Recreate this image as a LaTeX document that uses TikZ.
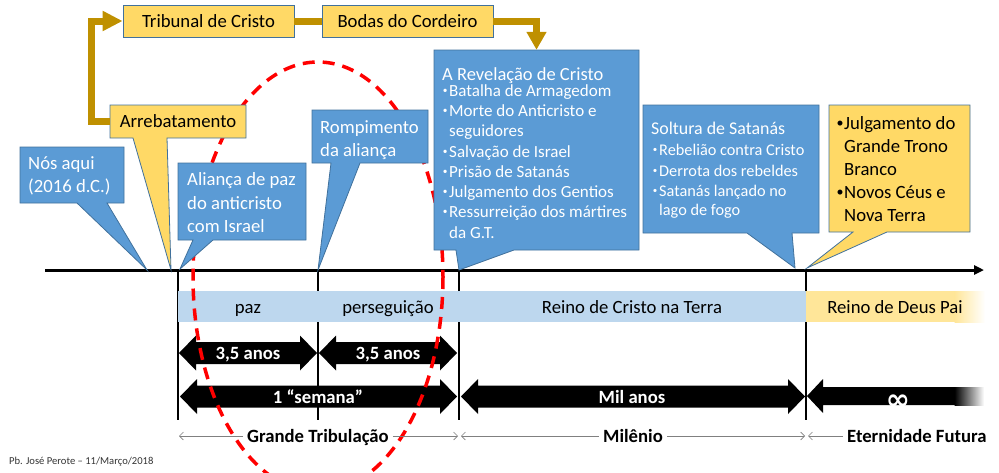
\documentclass[tikz,border=0pt]{standalone}
\usepackage{fontspec}
\usepackage{graphicx}
\setmainfont{Carlito}
\newfontfamily\dejavu{DejaVu Sans}
\usetikzlibrary{arrows.meta}
\definecolor{cblue}{HTML}{5B9BD5}
\definecolor{cedge}{HTML}{41719C}
\definecolor{cyel}{HTML}{FFD966}
\definecolor{cgold}{HTML}{BF9000}
\definecolor{bandb}{HTML}{BDD7EE}
\definecolor{bandy}{HTML}{FFE699}
\definecolor{dimg}{HTML}{808080}
\newcommand\FBig{\fontsize{18.7}{22}\selectfont}
\newcommand\FRevT{\fontsize{18.5}{22}\selectfont}
\newcommand\FRev{\fontsize{17}{20}\selectfont}
\newcommand\FSolT{\fontsize{17.9}{21}\selectfont}
\newcommand\FSol{\fontsize{16.3}{20}\selectfont}
\newcommand\FFoot{\fontsize{10.6}{12}\selectfont}
\newcommand\Bul[2]{\makebox[#1][c]{\raisebox{#2}{\scalebox{0.55}{•}}}}
\newcommand\BulJ[1]{\makebox[#1][c]{\raisebox{0.08em}{\scalebox{0.75}{•}}}}
\newcommand\DblArr[3]{%
  \fill (#1,#3) -- ({#1+17},{#3-17.5}) -- ({#1+17},{#3-11}) -- ({#2-17},{#3-11}) -- ({#2-17},{#3-17.5}) -- (#2,#3) -- ({#2-17},{#3+17.5}) -- ({#2-17},{#3+11}) -- ({#1+17},{#3+11}) -- ({#1+17},{#3+17.5}) -- cycle;}
\tikzset{
  bluecall/.style={fill=cblue, draw=cedge, line width=0.8pt},
  yelcall/.style={fill=cyel, draw=cedge, line width=0.8pt},
  topbox/.style={fill=cyel, draw=cedge, line width=0.8pt, minimum width=171pt, minimum height=32pt, inner sep=0pt, font=\FBig},
  wline/.style={text=white, inner sep=0pt, anchor=base west},
  kline/.style={text=black, inner sep=0pt, anchor=base west},
  bandtxt/.style={inner sep=0pt, anchor=base, font=\FBig},
  arrtxt/.style={inner sep=0pt, anchor=base, font=\FBig\bfseries, text=white},
  dimtxt/.style={inner xsep=4pt, inner ysep=0pt, anchor=base, font=\FBig\bfseries},
  dimline/.style={draw=dimg, line width=0.6pt, -{Straight Barb[length=4pt,width=8pt]}},
  goldline/.style={draw=cgold, line width=7pt, line join=miter},
  tickline/.style={line width=2pt},
}
\begin{document}
\begin{tikzpicture}[x=1pt,y=-1pt]
\useasboundingbox (0,0) rectangle (999,472);
\clip (0,0) rectangle (999,472);
% ticks
\draw[tickline] (178,270) -- (178,420);
\draw[tickline] (318,270) -- (318,420);
\draw[tickline] (459,270) -- (459,420);
\draw[tickline] (806,270) -- (806,420);
% bands
\fill[bandb] (178,291) rectangle (806,322);
\fill[bandy] (806,291) rectangle (955,322);
\shade[left color=bandy, right color=white] (954.5,291) rectangle (985,322);
% timeline
\coordinate (tl0) at (45,270);
\coordinate (tl1) at (984,270);
\draw[line width=3pt, -{Triangle[length=10pt,width=9pt]}] (tl0) -- (tl1);
% duration arrows
\DblArr{179}{317}{353}
\DblArr{319}{457}{353}
\DblArr{180}{457}{396.5}
\DblArr{461}{805}{396.5}
\fill (807,396) -- (823,379) -- (823,387) -- (955,387) -- (955,405) -- (823,405) -- (823,413) -- cycle;
\shade[left color=black, right color=white] (954.5,387) rectangle (984,405);
% band texts
\node[bandtxt] (tpaz) at (248,313) {paz};
\node[bandtxt] (tper) at (388,313) {perseguição};
\node[bandtxt] (trc) at (632,313) {Reino de Cristo na Terra};
\node[bandtxt] (trd) at (895,313) {Reino de Deus Pai};
% arrow texts
\node[arrtxt] (a1) at (248,359) {3,5 anos};
\node[arrtxt] (a2) at (388,359) {3,5 anos};
\node[arrtxt] (a3) at (318,403) {1 “semana”};
\node[arrtxt] (a4) at (632,403) {Mil anos};
\node[inner sep=0pt, font=\dejavu\bfseries\fontsize{29}{30}\selectfont, text=white] (a5) at (898,402) {∞};
% red ellipse
\draw[red, line width=3.5pt, dash pattern=on 12pt off 8pt] (318,277) ellipse [x radius=125, y radius=215];
% callouts
\draw[bluecall] (20,147) -- (124,147) -- (124,203) -- (107,203) -- (147,270) -- (77,203) -- (20,203) -- cycle;
\draw[yelcall] (110,105) -- (246,105) -- (246,138) -- (167,138) -- (171,270) -- (133,138) -- (110,138) -- cycle;
\draw[bluecall] (178,163) -- (306,163) -- (306,240) -- (213,240) -- (180,269) -- (193,240) -- (178,240) -- cycle;
\draw[bluecall] (312,110) -- (428,110) -- (428,163) -- (360,163) -- (318,270) -- (331,163) -- (312,163) -- cycle;
\draw[bluecall] (434,50) -- (639,50) -- (639,250) -- (514,250) -- (459,270) -- (456,250) -- (434,250) -- cycle;
\draw[bluecall] (643,105) -- (819,105) -- (819,233) -- (792,233) -- (795,268) -- (747,233) -- (643,233) -- cycle;
\draw[yelcall] (829,105) -- (970,105) -- (970,232) -- (887,232) -- (807,268) -- (853,232) -- (829,232) -- cycle;
% callout texts
\node[wline, font=\FBig] (n1) at (28,169) {Nós aqui};
\node[wline, font=\FBig] (n2) at (28,192.5) {(2016 d.C.)};
\node[inner sep=0pt, minimum width=136pt, minimum height=33pt, font=\FBig] (arreb) at (178,121.5) {Arrebatamento};
\node[wline, font=\FBig] (al1) at (187,185.5) {Aliança de paz};
\node[wline, font=\FBig] (al2) at (187,209) {do anticristo};
\node[wline, font=\FBig] (al3) at (187,232.5) {com Israel};
\node[wline, font=\FBig] (ro1) at (320,133.5) {Rompimento};
\node[wline, font=\FBig] (ro2) at (320,156) {da aliança};
\node[inner sep=0pt, minimum width=205pt, minimum height=200pt] (rev) at (536.5,150) {};
\node[wline, font=\FRevT] (rv0) at (442,80.5) {A Revelação de Cristo};
\node[wline, font=\FRev] (rv1) at (441,96) {\Bul{8pt}{0.15em}Batalha de Armagedom};
\node[wline, font=\FRev] (rv2) at (441,116) {\Bul{8pt}{0.15em}Morte do Anticristo e};
\node[wline, font=\FRev] (rv3) at (449,136) {seguidores};
\node[wline, font=\FRev] (rv4) at (441,157) {\Bul{8pt}{0.15em}Salvação de Israel};
\node[wline, font=\FRev] (rv5) at (441,177) {\Bul{8pt}{0.15em}Prisão de Satanás};
\node[wline, font=\FRev] (rv6) at (441,197) {\Bul{8pt}{0.15em}Julgamento dos Gentios};
\node[wline, font=\FRev] (rv7) at (441,217) {\Bul{8pt}{0.15em}Ressurreição dos mártires};
\node[wline, font=\FRev] (rv8) at (449,238) {da G.T.};
\node[wline, font=\FSolT] (so0) at (651,134) {Soltura de Satanás};
\node[wline, font=\FSol] (so1) at (651,155) {\Bul{8pt}{0.15em}Rebelião contra Cristo};
\node[wline, font=\FSol] (so2) at (651,176) {\Bul{8pt}{0.15em}Derrota dos rebeldes};
\node[wline, font=\FSol] (so3) at (651,196) {\Bul{8pt}{0.15em}Satanás lançado no};
\node[wline, font=\FSol] (so4) at (659,215) {lago de fogo};
\node[kline, font=\FBig] (ju1) at (836,129) {\BulJ{8pt}Julgamento do};
\node[kline, font=\FBig] (ju2) at (844,152) {Grande Trono};
\node[kline, font=\FBig] (ju3) at (844,175) {Branco};
\node[kline, font=\FBig] (ju4) at (836,198) {\BulJ{8pt}Novos Céus e};
\node[kline, font=\FBig] (ju5) at (844,221) {Nova Terra};
% top boxes and gold connectors
\node[topbox] (trib) at (208.5,21) {Tribunal de Cristo};
\node[topbox] (bodas) at (407.5,21) {Bodas do Cordeiro};
\draw[goldline, -{Triangle[length=20pt,width=19pt]}] (arreb.west) -- ++(-18,0) |- (trib.west);
\draw[goldline] (trib.east) -- (bodas.east -| bodas.west);
\draw[goldline, -{Triangle[length=18pt,width=19pt]}] (bodas.east) -| (rev.north);
% bottom labels
\coordinate (g0) at (179,436);
\coordinate (g1) at (458,436);
\coordinate (g2) at (461,436);
\coordinate (g3) at (805,436);
\coordinate (g4) at (808,436);
\node[dimtxt] (gt) at (318,442) {Grande Tribulação};
\node[dimtxt] (mil) at (633,442) {Milênio};
\node[dimtxt, anchor=base west] (et) at (843,442) {Eternidade Futura};
\draw[dimline] (g0 -| gt.west) -- (g0);
\draw[dimline] (g0 -| gt.east) -- (g1);
\draw[dimline] (g0 -| mil.west) -- (g2);
\draw[dimline] (g0 -| mil.east) -- (g3);
\draw[dimline] (g0 -| et.west) -- (g4);
% footer
\node[inner sep=0pt, anchor=base west, font=\FFoot, text=black!80] (foot) at (9,464) {Pb. José Perote – 11/Março/2018};
\end{tikzpicture}
\end{document}
